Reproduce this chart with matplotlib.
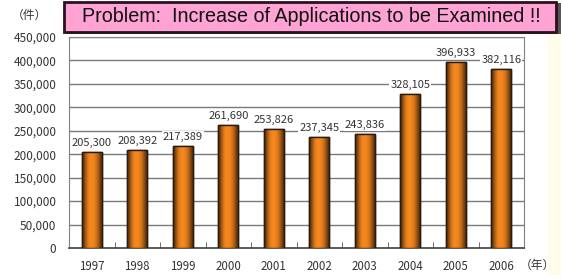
import matplotlib
matplotlib.use("Agg")
import matplotlib.pyplot as plt
from matplotlib.patches import Rectangle
import numpy as np

years = ["1997", "1998", "1999", "2000", "2001", "2002", "2003", "2004", "2005", "2006"]
applications = [205300, 208392, 217389, 261690, 253826, 237345, 243836, 328105, 396933, 382116]
yticks = [0, 50000, 100000, 150000, 200000, 250000, 300000, 350000, 400000, 450000]
title = "Problem:  Increase of Applications to be Examined !!"

plt.rcParams['font.family'] = ['Liberation Sans', 'Noto Sans CJK JP', 'DejaVu Sans']
jp = ['Noto Sans CJK JP', 'DejaVu Sans']

fig = plt.figure(figsize=(5.61, 2.75), dpi=100)
W, H = 561.0, 275.0

# cream strip on the right
fig.patches.append(Rectangle((548 / W, 0), 1, 1, transform=fig.transFigure,
                             facecolor='#fffcea', edgecolor='none', zorder=0))

ax = fig.add_axes([69 / W, 1 - 248 / H, (524 - 69) / W, (248 - 37) / H])
x = np.arange(len(years))
ax.set_xlim(-0.5, len(years) - 0.5)
ax.set_ylim(0, 450000)

for y in yticks[1:]:
    ax.axhline(y, color='#7a7a7a', lw=1.0, zorder=1)

bars = ax.bar(x, applications, width=0.44, color='#f7881f', edgecolor='#2a1a10',
              lw=1.0, zorder=3)

# cylinder-like shading on each bar
shade = np.array([0.35, 0.55, 0.8, 0.95, 1.0, 1.0, 0.95, 0.85, 0.7, 0.5, 0.3])
base = np.array([247, 136, 31]) / 255.0
grad = (base[None, :] * shade[:, None])[None, :, :]
for b in bars:
    x0, w, h = b.get_x(), b.get_width(), b.get_height()
    im = ax.imshow(grad, extent=(x0, x0 + w, 0, h), aspect='auto', zorder=3.5,
                   interpolation='bicubic')
    im.set_clip_path(b)
    ax.add_patch(Rectangle((x0, 0), w, h, facecolor='none', edgecolor='#2a1a10',
                           lw=1.0, zorder=4))

for xi, v in zip(x, applications):
    ax.annotate(f"{v:,}", (xi, v), xytext=(0, 3), textcoords='offset points',
                ha='center', va='bottom', fontsize=8, color='#333333', zorder=5,
                family=jp,
                bbox=dict(boxstyle='square,pad=0.1', fc='white', ec='none'))

ax.set_yticks(yticks)
ax.set_yticklabels([f"{v:,}" for v in yticks], fontsize=8.5, color='#333333',
                   family=jp)
ax.set_xticks(x)
ax.set_xticklabels(years, fontsize=8.3, color='#333333', family=jp)
ax.tick_params(axis='y', length=0, pad=9)
ax.tick_params(axis='x', length=0, pad=9)
ax.set_xticks(x[:-1] + 0.5, minor=True)
ax.tick_params(axis='x', which='minor', direction='in', length=4, color='#555555')

for s in ['top', 'right', 'left']:
    ax.spines[s].set_color('#808080')
ax.spines['bottom'].set_color('#404040')
ax.spines['bottom'].set_linewidth(1.2)

fig.text(29 / W, 1 - 15 / H, "（件）", fontsize=8.5, color='#333333',
         ha='center', va='center', family=jp)
fig.text(537 / W, 1 - 265 / H, "（年）", fontsize=8.5, color='#333333',
         ha='center', va='center', family=jp)

# title box with shadow
fig.patches.append(Rectangle(((64 + 3) / W, 1 - 34 / H), (558 - 64) / W, 31 / H,
                             transform=fig.transFigure, facecolor='#555555',
                             edgecolor='none', zorder=5))
fig.patches.append(Rectangle((64 / W, 1 - 32 / H), (556 - 64) / W, 30 / H,
                             transform=fig.transFigure, facecolor='#ffa3d4',
                             edgecolor='#2a1020', lw=2.0, zorder=6))
fig.text(311 / W, 1 - 17 / H, title, fontsize=14.2, color='#111111',
         ha='center', va='center', zorder=7)

fig.savefig("out.png", dpi=100)
